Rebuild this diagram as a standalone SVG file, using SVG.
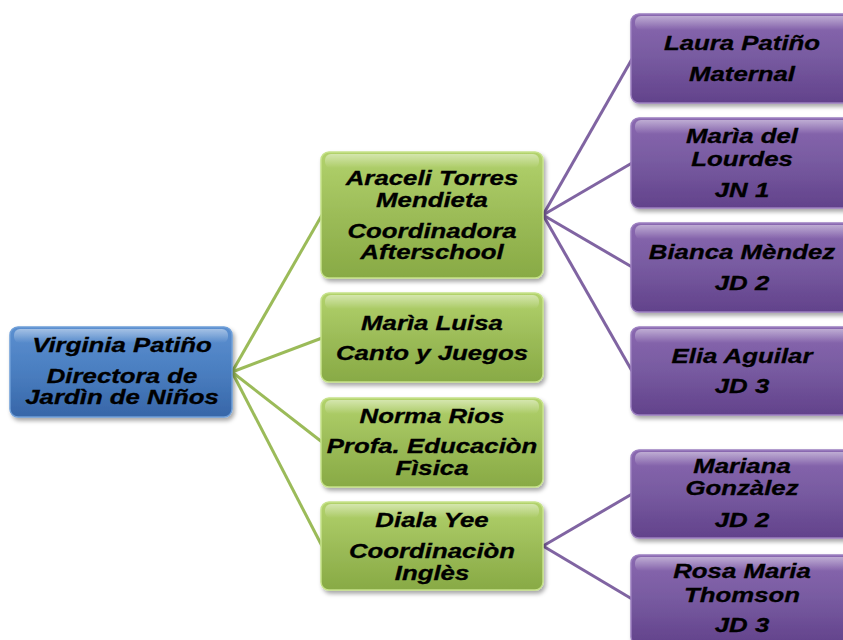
<svg xmlns="http://www.w3.org/2000/svg" width="843" height="640" viewBox="0 0 843 640">
<defs>
<linearGradient id="gBlue" x1="0" y1="0" x2="0" y2="1">
<stop offset="0" stop-color="#5b8fd0"/>
<stop offset="0.5" stop-color="#4a7ec0"/>
<stop offset="1" stop-color="#3766a8"/>
</linearGradient>
<linearGradient id="gGreen" x1="0" y1="0" x2="0" y2="1">
<stop offset="0" stop-color="#b2d26c"/>
<stop offset="0.5" stop-color="#9cbc58"/>
<stop offset="1" stop-color="#88aa45"/>
</linearGradient>
<linearGradient id="gPurple" x1="0" y1="0" x2="0" y2="1">
<stop offset="0" stop-color="#8a68b0"/>
<stop offset="0.5" stop-color="#775aa0"/>
<stop offset="1" stop-color="#62428b"/>
</linearGradient>
<linearGradient id="gShine" x1="0" y1="0" x2="0" y2="1">
<stop offset="0" stop-color="#ffffff" stop-opacity="0.45"/>
<stop offset="1" stop-color="#ffffff" stop-opacity="0"/>
</linearGradient>
<filter id="shadow" x="-10%" y="-10%" width="125%" height="130%">
<feDropShadow dx="2" dy="3" stdDeviation="2" flood-color="#000" flood-opacity="0.35"/>
</filter>
</defs>
<style>
.box{filter:url(#shadow);}
.blue{fill:url(#gBlue);stroke:#6f9fd8;stroke-width:1.5;}
.green{fill:url(#gGreen);stroke:#c6e28a;stroke-width:1.5;}
.purple{fill:url(#gPurple);stroke:#9c7fc0;stroke-width:1.5;}
.shine{fill:url(#gShine);}
.t{font-family:"Liberation Sans",Arial,sans-serif;font-weight:bold;font-style:italic;font-size:20px;fill:#000;stroke:#000;stroke-width:0.3;text-anchor:middle;}
.cg{stroke:#9bbb59;stroke-width:3;fill:none;}
.cp{stroke:#8064a2;stroke-width:3;fill:none;}
</style>
<rect width="843" height="640" fill="#fff"/>
<g id="connectors">
<line class="cg" x1="232" y1="372" x2="322" y2="215"/>
<line class="cg" x1="232" y1="372" x2="322" y2="338"/>
<line class="cg" x1="232" y1="372" x2="322" y2="442"/>
<line class="cg" x1="232" y1="372" x2="322" y2="546"/>
<line class="cp" x1="543" y1="215" x2="632" y2="59"/>
<line class="cp" x1="543" y1="215" x2="632" y2="163"/>
<line class="cp" x1="543" y1="215" x2="632" y2="267"/>
<line class="cp" x1="543" y1="215" x2="632" y2="371"/>
<line class="cp" x1="543" y1="546" x2="632" y2="494"/>
<line class="cp" x1="543" y1="546" x2="632" y2="599"/>
</g>
<g id="root">
<rect class="box blue" x="10" y="327" width="222" height="90" rx="8"/>
<rect class="shine" x="14" y="329" width="214" height="14" rx="6"/>
<g transform="translate(122 0) scale(1.29 1)">
<text class="t" x="0" y="352">Virginia Patiño</text>
<text class="t" x="0" y="383">Directora de</text>
<text class="t" x="0" y="404">Jardìn de Niños</text>
</g>
</g>
<g id="araceli">
<rect class="box green" x="321" y="152" width="222" height="126" rx="8"/>
<rect class="shine" x="325" y="154" width="214" height="14" rx="6"/>
<g transform="translate(432 0) scale(1.29 1)">
<text class="t" x="0" y="185">Araceli Torres</text>
<text class="t" x="0" y="207">Mendieta</text>
<text class="t" x="0" y="238">Coordinadora</text>
<text class="t" x="0" y="259">Afterschool</text>
</g>
</g>
<g id="marialuisa">
<rect class="box green" x="321" y="293" width="222" height="89" rx="8"/>
<rect class="shine" x="325" y="295" width="214" height="14" rx="6"/>
<g transform="translate(432 0) scale(1.29 1)">
<text class="t" x="0" y="330">Marìa Luisa</text>
<text class="t" x="0" y="360">Canto y Juegos</text>
</g>
</g>
<g id="norma">
<rect class="box green" x="321" y="398" width="222" height="89" rx="8"/>
<rect class="shine" x="325" y="400" width="214" height="14" rx="6"/>
<g transform="translate(432 0) scale(1.29 1)">
<text class="t" x="0" y="423">Norma Rios</text>
<text class="t" x="0" y="453">Profa. Educaciòn</text>
<text class="t" x="0" y="475">Fìsica</text>
</g>
</g>
<g id="diala">
<rect class="box green" x="321" y="502" width="222" height="88" rx="8"/>
<rect class="shine" x="325" y="504" width="214" height="14" rx="6"/>
<g transform="translate(432 0) scale(1.29 1)">
<text class="t" x="0" y="527">Diala Yee</text>
<text class="t" x="0" y="558">Coordinaciòn</text>
<text class="t" x="0" y="580">Inglès</text>
</g>
</g>
<g id="laura">
<rect class="box purple" x="631" y="14" width="226" height="89" rx="8"/>
<rect class="shine" x="635" y="16" width="218" height="14" rx="6"/>
<g transform="translate(742 0) scale(1.29 1)">
<text class="t" x="0" y="50">Laura Patiño</text>
<text class="t" x="0" y="81">Maternal</text>
</g>
</g>
<g id="mariadellourdes">
<rect class="box purple" x="631" y="118" width="226" height="90" rx="8"/>
<rect class="shine" x="635" y="120" width="218" height="14" rx="6"/>
<g transform="translate(742 0) scale(1.29 1)">
<text class="t" x="0" y="143">Marìa del</text>
<text class="t" x="0" y="166">Lourdes</text>
<text class="t" x="0" y="197">JN 1</text>
</g>
</g>
<g id="bianca">
<rect class="box purple" x="631" y="223" width="226" height="89" rx="8"/>
<rect class="shine" x="635" y="225" width="218" height="14" rx="6"/>
<g transform="translate(742 0) scale(1.29 1)">
<text class="t" x="0" y="259">Bianca Mèndez</text>
<text class="t" x="0" y="290">JD 2</text>
</g>
</g>
<g id="elia">
<rect class="box purple" x="631" y="327" width="226" height="88" rx="8"/>
<rect class="shine" x="635" y="329" width="218" height="14" rx="6"/>
<g transform="translate(742 0) scale(1.29 1)">
<text class="t" x="0" y="363">Elia Aguilar</text>
<text class="t" x="0" y="393">JD 3</text>
</g>
</g>
<g id="mariana">
<rect class="box purple" x="631" y="450" width="226" height="88" rx="8"/>
<rect class="shine" x="635" y="452" width="218" height="14" rx="6"/>
<g transform="translate(742 0) scale(1.29 1)">
<text class="t" x="0" y="473">Mariana</text>
<text class="t" x="0" y="495">Gonzàlez</text>
<text class="t" x="0" y="527">JD 2</text>
</g>
</g>
<g id="rosa">
<rect class="box purple" x="631" y="555" width="226" height="90" rx="8"/>
<rect class="shine" x="635" y="557" width="218" height="14" rx="6"/>
<g transform="translate(742 0) scale(1.29 1)">
<text class="t" x="0" y="578">Rosa Maria</text>
<text class="t" x="0" y="602">Thomson</text>
<text class="t" x="0" y="632">JD 3</text>
</g>
</g>
</svg>
